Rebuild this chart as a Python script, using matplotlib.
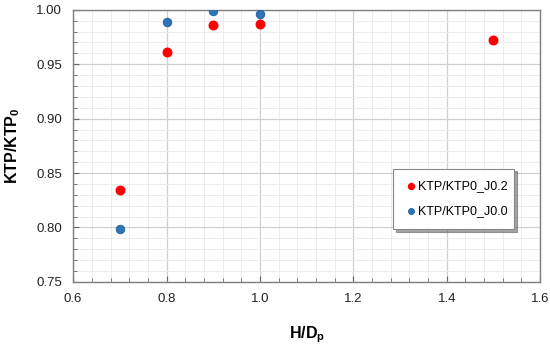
import matplotlib.pyplot as plt
from matplotlib.ticker import MultipleLocator

plt.rcParams['font.family'] = ['Liberation Sans', 'DejaVu Sans']

hd_j02 = [0.7, 0.8, 0.9, 1.0, 1.5]
ktp_j02 = [0.834, 0.961, 0.986, 0.987, 0.972]
hd_j00 = [0.7, 0.8, 0.9, 1.0]
ktp_j00 = [0.799, 0.989, 0.999, 0.996]

fig = plt.figure(figsize=(5.5, 3.51), dpi=100)
ax = fig.add_axes([0.133, 0.197, 0.849, 0.775])

ax.scatter(hd_j02, ktp_j02, s=38, color='#ff0000', zorder=3, label='KTP/KTP0_J0.2')
ax.scatter(hd_j00, ktp_j00, s=38, color='#2e75b6', edgecolor='#1f5f99', linewidth=0.6,
           zorder=3, label='KTP/KTP0_J0.0')

ax.set_xlim(0.6, 1.6)
ax.set_ylim(0.75, 1.0)
ax.xaxis.set_major_locator(MultipleLocator(0.2))
ax.xaxis.set_minor_locator(MultipleLocator(0.04))
ax.yaxis.set_major_locator(MultipleLocator(0.05))
ax.yaxis.set_minor_locator(MultipleLocator(0.01))
ax.xaxis.set_major_formatter(plt.FormatStrFormatter('%.1f'))
ax.yaxis.set_major_formatter(plt.FormatStrFormatter('%.2f'))

ax.grid(which='major', color='#d0d0d0', linewidth=0.9)
ax.grid(which='minor', color='#ececec', linewidth=0.7)
ax.set_axisbelow(True)

ax.tick_params(which='both', direction='in', top=False, right=False, labelsize=9.5,
               color='#666666', labelcolor='#222222')
ax.tick_params(which='major', length=4)
ax.tick_params(which='minor', length=3)
ax.tick_params(axis='x', pad=8)
ax.tick_params(axis='y', pad=8)
for sp in ax.spines.values():
    sp.set_color('#7f7f7f')
    sp.set_linewidth(1.0)

ax.set_xlabel('H/D$_\\mathregular{p}$', fontsize=11.5, fontweight='bold', labelpad=14)
ax.set_ylabel('KTP/KTP$_\\mathregular{0}$', fontsize=11.5, fontweight='bold', labelpad=10)

leg = ax.legend(loc='lower left', bbox_to_anchor=(0.685, 0.195, 0.259, 0.21), mode='expand',
                fontsize=9, frameon=True, shadow=True, fancybox=False, handletextpad=0.1,
                handlelength=1.0, markerscale=0.7, borderpad=0.9, labelspacing=1.1,
                borderaxespad=0)
leg.get_frame().set_edgecolor('#888888')
leg.get_frame().set_linewidth(0.8)

fig.savefig('out.png', dpi=100)
